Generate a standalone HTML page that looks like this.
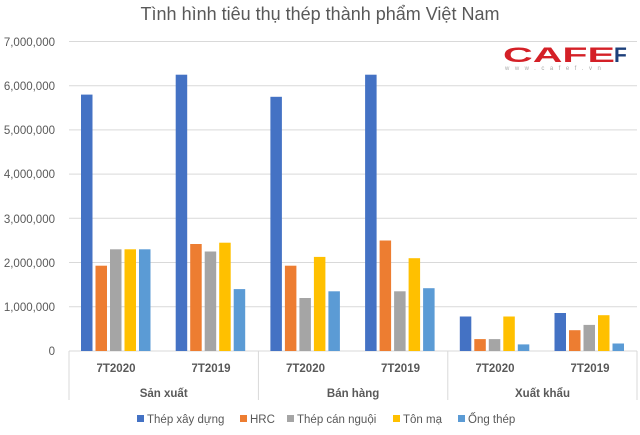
<!DOCTYPE html>
<html><head><meta charset="utf-8"><style>
body{margin:0;background:#fff}
svg{display:block;font-family:"Liberation Sans","DejaVu Sans",sans-serif}
</style></head><body>
<svg width="640" height="435" viewBox="0 0 640 435" xmlns="http://www.w3.org/2000/svg">
<rect width="640" height="435" fill="#fff"/>
<text x="320" y="20" text-anchor="middle" font-size="18" fill="#595959">Tình hình tiêu thụ thép thành phẩm Việt Nam</text>
<g stroke="#d9d9d9" stroke-width="1">
<line x1="69" x2="637" y1="41.5" y2="41.5"/>
<line x1="69" x2="637" y1="85.7" y2="85.7"/>
<line x1="69" x2="637" y1="129.9" y2="129.9"/>
<line x1="69" x2="637" y1="174.1" y2="174.1"/>
<line x1="69" x2="637" y1="218.3" y2="218.3"/>
<line x1="69" x2="637" y1="262.5" y2="262.5"/>
<line x1="69" x2="637" y1="306.7" y2="306.7"/>
<line x1="69" x2="637" y1="351" y2="351"/>
<line x1="69" x2="69" y1="351" y2="400"/>
<line x1="258.4" x2="258.4" y1="351" y2="400"/>
<line x1="447.8" x2="447.8" y1="351" y2="400"/>
<line x1="637" x2="637" y1="351" y2="400"/>
</g>
<g font-size="11.5" fill="#595959" text-anchor="end">
<text x="55" y="46">7,000,000</text>
<text x="55" y="90">6,000,000</text>
<text x="55" y="134">5,000,000</text>
<text x="55" y="178">4,000,000</text>
<text x="55" y="223">3,000,000</text>
<text x="55" y="267">2,000,000</text>
<text x="55" y="311">1,000,000</text>
<text x="55" y="355">0</text>
</g>
<g>
<!-- g1 -->
<rect x="81" y="94.6" width="11.5" height="256.4" fill="#4472C4"/>
<rect x="95.5" y="265.7" width="11.5" height="85.3" fill="#ED7D31"/>
<rect x="110" y="249.3" width="11.5" height="101.7" fill="#A5A5A5"/>
<rect x="124.5" y="249.3" width="11.5" height="101.7" fill="#FFC000"/>
<rect x="139" y="249.3" width="11.5" height="101.7" fill="#5B9BD5"/>
<!-- g2 -->
<rect x="175.7" y="74.7" width="11.5" height="276.3" fill="#4472C4"/>
<rect x="190.2" y="244" width="11.5" height="107" fill="#ED7D31"/>
<rect x="204.7" y="251.5" width="11.5" height="99.5" fill="#A5A5A5"/>
<rect x="219.2" y="242.7" width="11.5" height="108.3" fill="#FFC000"/>
<rect x="233.7" y="289.1" width="11.5" height="61.9" fill="#5B9BD5"/>
<!-- g3 -->
<rect x="270.4" y="96.8" width="11.5" height="254.2" fill="#4472C4"/>
<rect x="284.9" y="265.7" width="11.5" height="85.3" fill="#ED7D31"/>
<rect x="299.4" y="298" width="11.5" height="53" fill="#A5A5A5"/>
<rect x="313.9" y="256.9" width="11.5" height="94.1" fill="#FFC000"/>
<rect x="328.4" y="291.3" width="11.5" height="59.7" fill="#5B9BD5"/>
<!-- g4 -->
<rect x="365.1" y="74.7" width="11.5" height="276.3" fill="#4472C4"/>
<rect x="379.6" y="240.5" width="11.5" height="110.5" fill="#ED7D31"/>
<rect x="394.1" y="291.3" width="11.5" height="59.7" fill="#A5A5A5"/>
<rect x="408.6" y="258.2" width="11.5" height="92.8" fill="#FFC000"/>
<rect x="423.1" y="288.2" width="11.5" height="62.8" fill="#5B9BD5"/>
<!-- g5 -->
<rect x="459.8" y="316.5" width="11.5" height="34.5" fill="#4472C4"/>
<rect x="474.3" y="339.1" width="11.5" height="11.9" fill="#ED7D31"/>
<rect x="488.8" y="339.1" width="11.5" height="11.9" fill="#A5A5A5"/>
<rect x="503.3" y="316.5" width="11.5" height="34.5" fill="#FFC000"/>
<rect x="517.8" y="344.4" width="11.5" height="6.6" fill="#5B9BD5"/>
<!-- g6 -->
<rect x="554.5" y="313" width="11.5" height="38" fill="#4472C4"/>
<rect x="569" y="330.2" width="11.5" height="20.8" fill="#ED7D31"/>
<rect x="583.5" y="324.9" width="11.5" height="26.1" fill="#A5A5A5"/>
<rect x="598" y="315.2" width="11.5" height="35.8" fill="#FFC000"/>
<rect x="612.5" y="343.5" width="11.5" height="7.5" fill="#5B9BD5"/>
</g>
<g font-size="11.5" font-weight="bold" fill="#595959" text-anchor="middle">
<text x="116" y="372">7T2020</text>
<text x="211" y="372">7T2019</text>
<text x="305.5" y="372">7T2020</text>
<text x="400.5" y="372">7T2019</text>
<text x="495" y="372">7T2020</text>
<text x="590" y="372">7T2019</text>
<text x="163.7" y="397">Sản xuất</text>
<text x="353.1" y="397">Bán hàng</text>
<text x="542.5" y="397">Xuất khẩu</text>
</g>
<g font-size="11.5" fill="#595959">
<rect x="137" y="415" width="7" height="7" fill="#4472C4"/><text x="147" y="423">Thép xây dựng</text>
<rect x="240" y="415" width="7" height="7" fill="#ED7D31"/><text x="250" y="423">HRC</text>
<rect x="287" y="415" width="7" height="7" fill="#A5A5A5"/><text x="297" y="423">Thép cán nguội</text>
<rect x="393" y="415" width="7" height="7" fill="#FFC000"/><text x="403" y="423">Tôn mạ</text>
<rect x="458" y="415" width="7" height="7" fill="#5B9BD5"/><text x="468" y="423">Ống thép</text>
</g>
<text x="503" y="62" font-size="21" font-weight="bold" fill="#d42027" textLength="112" lengthAdjust="spacingAndGlyphs">CAFE</text>
<text x="614" y="62" font-size="21" font-weight="bold" fill="#1c3f7a">F</text>
<text x="505" y="70" font-size="6" fill="#aaa" letter-spacing="5.5">www.cafef.vn</text>
</svg>
</body></html>
